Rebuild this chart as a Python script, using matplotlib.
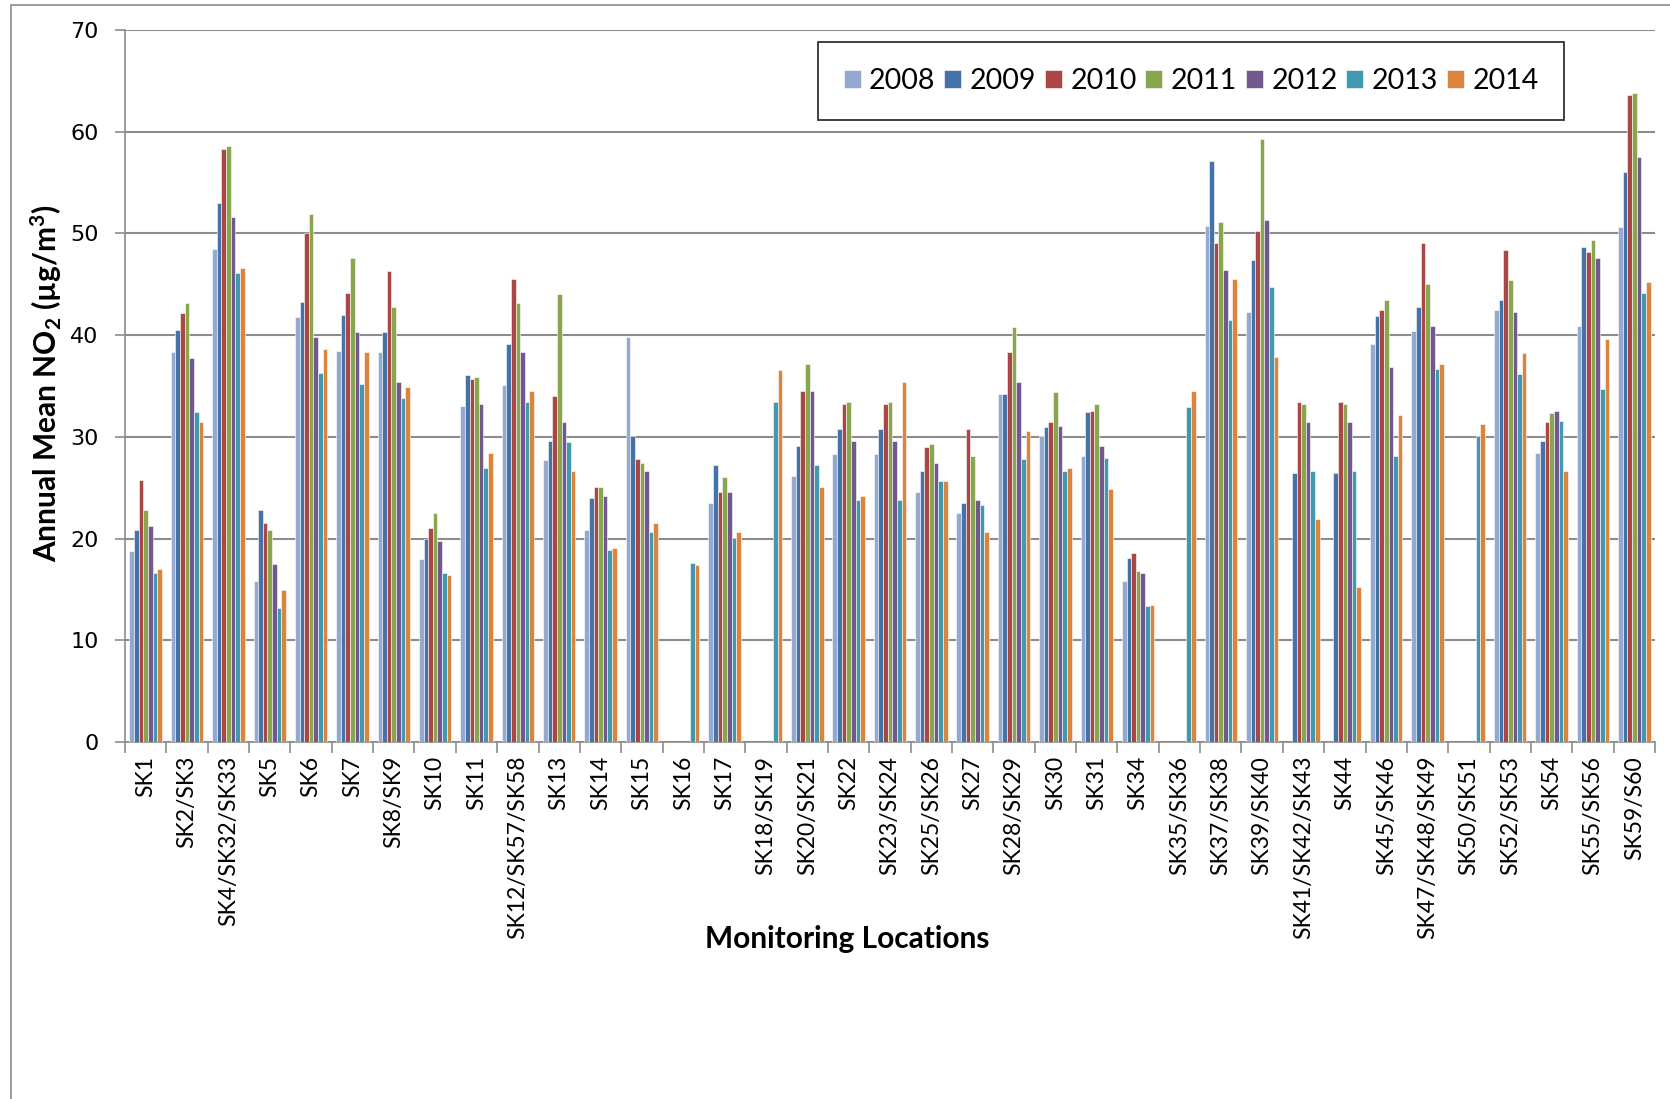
import numpy as np
import matplotlib
matplotlib.use("Agg")
import matplotlib.pyplot as plt
from matplotlib.patches import Rectangle

nan = np.nan

locations = ["SK1", "SK2/SK3", "SK4/SK32/SK33", "SK5", "SK6", "SK7", "SK8/SK9",
             "SK10", "SK11", "SK12/SK57/SK58", "SK13", "SK14", "SK15", "SK16",
             "SK17", "SK18/SK19", "SK20/SK21", "SK22", "SK23/SK24", "SK25/SK26",
             "SK27", "SK28/SK29", "SK30", "SK31", "SK34", "SK35/SK36",
             "SK37/SK38", "SK39/SK40", "SK41/SK42/SK43", "SK44", "SK45/SK46",
             "SK47/SK48/SK49", "SK50/SK51", "SK52/SK53", "SK54", "SK55/SK56",
             "SK59/S60"]

years = ["2008", "2009", "2010", "2011", "2012", "2013", "2014"]

no2_2008 = [18.8, 38.3, 48.5, 15.8, 41.8, 38.4, 38.3, 18.0, 33.0, 35.1, 27.7, 20.8,
            39.8, nan, 23.5, nan, 26.2, 28.3, 28.3, 24.6, 22.5, 34.2, 30.1, 28.1,
            15.8, nan, 50.7, 42.3, nan, nan, 39.1, 40.4, nan, 42.5, 28.4, 40.9, 50.6]
no2_2009 = [20.8, 40.5, 53.0, 22.8, 43.3, 42.0, 40.3, 20.0, 36.1, 39.1, 29.6, 24.0,
            30.1, nan, 27.2, nan, 29.1, 30.8, 30.8, 26.6, 23.5, 34.2, 31.0, 32.4,
            18.1, nan, 57.1, 47.4, 26.4, 26.4, 41.9, 42.8, nan, 43.5, 29.6, 48.7, 56.0]
no2_2010 = [25.8, 42.2, 58.3, 21.5, 50.0, 44.1, 46.3, 21.0, 35.7, 45.5, 34.0, 25.1,
            27.8, nan, 24.6, nan, 34.5, 33.2, 33.2, 29.0, 30.8, 38.3, 31.5, 32.5,
            18.6, nan, 49.1, 50.2, 33.4, 33.4, 42.5, 49.1, nan, 48.4, 31.5, 48.2, 63.6]
no2_2011 = [22.8, 43.2, 58.6, 20.8, 51.9, 47.6, 42.8, 22.5, 35.9, 43.2, 44.0, 25.1,
            27.4, nan, 26.1, nan, 37.2, 33.4, 33.4, 29.3, 28.1, 40.8, 34.4, 33.2,
            16.8, nan, 51.1, 59.3, 33.2, 33.2, 43.5, 45.0, nan, 45.4, 32.3, 49.4, 63.8]
no2_2012 = [21.2, 37.8, 51.6, 17.5, 39.8, 40.3, 35.4, 19.8, 33.2, 38.3, 31.5, 24.2,
            26.6, nan, 24.6, nan, 34.5, 29.6, 29.6, 27.4, 23.8, 35.4, 31.1, 29.1,
            16.6, nan, 46.4, 51.3, 31.5, 31.5, 36.9, 40.9, nan, 42.3, 32.5, 47.6, 57.5]
no2_2013 = [16.6, 32.4, 46.1, 13.2, 36.3, 35.2, 33.8, 16.6, 26.9, 33.4, 29.5, 18.9,
            20.6, 17.6, 20.1, 33.4, 27.2, 23.8, 23.8, 25.7, 23.3, 27.8, 26.6, 27.9,
            13.4, 32.9, 41.5, 44.7, 26.6, 26.6, 28.1, 36.7, 30.1, 36.2, 31.6, 34.7, 44.1]
no2_2014 = [17.0, 31.5, 46.6, 14.9, 38.6, 38.3, 34.9, 16.4, 28.4, 34.5, 26.6, 19.1,
            21.5, 17.4, 20.6, 36.6, 25.1, 24.2, 35.4, 25.7, 20.6, 30.6, 26.9, 24.9,
            13.5, 34.5, 45.5, 37.9, 21.9, 15.2, 32.1, 37.2, 31.3, 38.2, 26.6, 39.6, 45.2]

series = [no2_2008, no2_2009, no2_2010, no2_2011, no2_2012, no2_2013, no2_2014]
colours = ["#93A9D0", "#4572A7", "#AA4643", "#89A54E", "#71588F", "#4198AF", "#DB843D"]

plt.rcParams["font.family"] = ["Lato", "DejaVu Sans"]
plt.rcParams["mathtext.default"] = "regular"

W, H = 1670, 1099
fig = plt.figure(figsize=(W / 100, H / 100), dpi=100)
fig.patch.set_facecolor("white")

# outer chart frame
fig.patches.append(Rectangle((11 / W, -0.05), 1.2, 1 - 5 / H + 0.05,
                             transform=fig.transFigure, fill=False,
                             edgecolor="#8c8c8c", linewidth=1.2, zorder=0))

ax = fig.add_axes([125 / W, 1 - 742 / H, (1655 - 125) / W, (742 - 30) / H])

n = len(locations)
x = np.arange(n) + 0.5
bw = 0.112
for k, (vals, c, yr) in enumerate(zip(series, colours, years)):
    off = (k - 3) * bw
    ax.bar(x + off, vals, width=bw, color=c, edgecolor="white",
           linewidth=0.4, label=yr, zorder=3)

ax.set_xlim(0, n)
ax.set_ylim(0, 70)
ax.set_yticks(np.arange(0, 71, 10))
ax.yaxis.grid(True, color="#8c8c8c", linewidth=1.5, zorder=0)
ax.set_axisbelow(True)

ax.set_xticks(x)
ax.set_xticklabels(locations, rotation=90, fontsize=16.5, va="top")
ax.set_xticks(np.arange(0, n + 1), minor=True)
ax.tick_params(axis="x", which="major", length=0, pad=10)
ax.tick_params(axis="x", which="minor", length=8, color="#8c8c8c", width=1.2)
ax.tick_params(axis="y", length=7, color="#8c8c8c", width=1.2, pad=12)
for lab in ax.get_yticklabels():
    lab.set_fontfamily("DejaVu Sans")
    lab.set_fontsize(16)

for side in ["top", "right"]:
    ax.spines[side].set_visible(False)
for side in ["left", "bottom"]:
    ax.spines[side].set_color("#8c8c8c")
    ax.spines[side].set_linewidth(1.2)

# axis titles placed in figure pixels
fig.text(46 / W, 1 - 383 / H, "Annual Mean NO$_2$ (µg/m$^3$)", fontsize=21.5,
         fontweight="bold", rotation=90, ha="center", va="center")
fig.text(847 / W, 1 - 939 / H, "Monitoring Locations", fontsize=21.5,
         fontweight="bold", ha="center", va="center")

leg = ax.legend(ncol=7, loc="center", bbox_to_anchor=(1191 / W, 1 - 81 / H),
                bbox_transform=fig.transFigure, fontsize=20.5, frameon=True,
                fancybox=False, edgecolor="black", handlelength=0.6,
                handleheight=0.6, handletextpad=0.3, columnspacing=0.3,
                borderpad=0.9)
leg.get_frame().set_linewidth(1.3)

fig.savefig("out.png", dpi=100, facecolor="white")
